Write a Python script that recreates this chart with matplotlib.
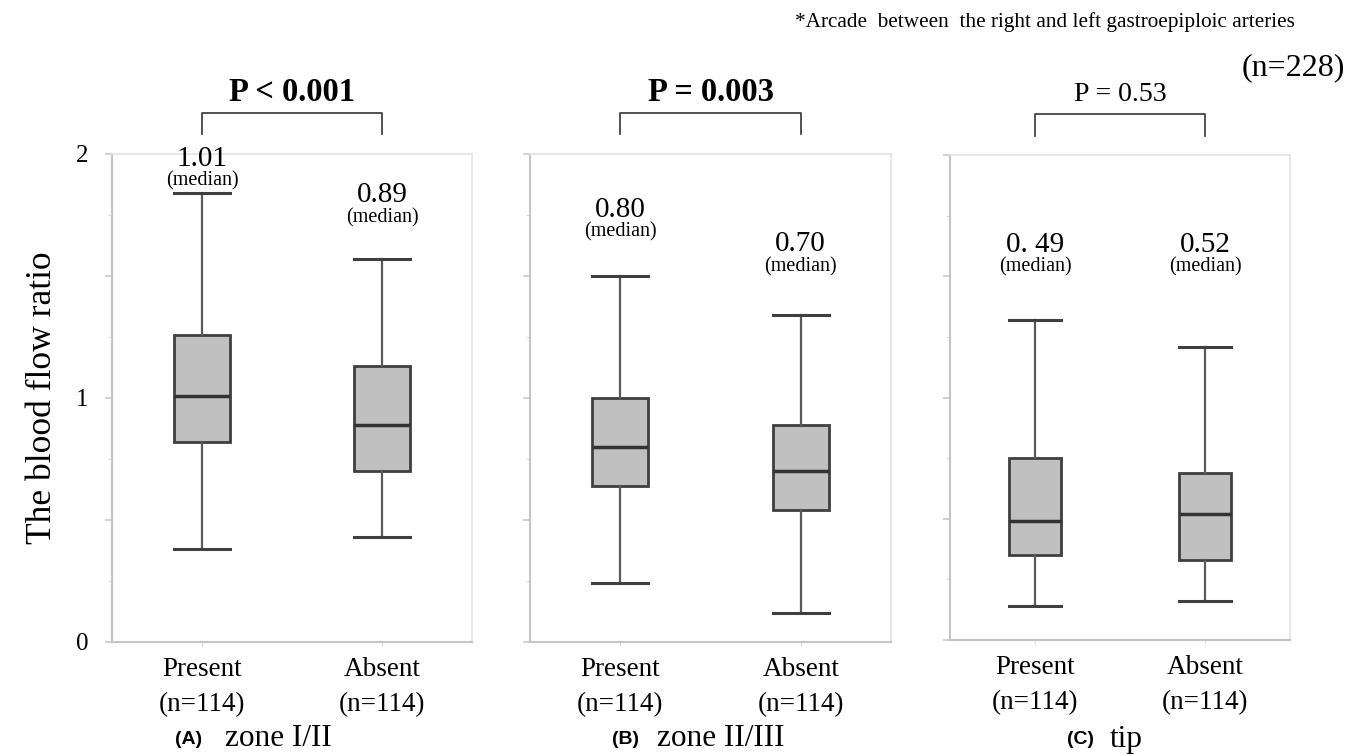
import matplotlib
matplotlib.use("Agg")
import matplotlib.pyplot as plt
from matplotlib.ticker import MultipleLocator

plt.rcParams['font.family'] = ['Liberation Serif', 'DejaVu Serif']

# Box statistics (blood flow ratio)
groups = ['Present', 'Absent']
group_n = [114, 114]
panel_letters = ['(A)', '(B)', '(C)']
panel_names = ['zone I/II', 'zone II/III', 'tip']
p_values = ['P < 0.001', 'P = 0.003', 'P = 0.53']
p_bold = [True, True, False]

whis_lo = [[0.38, 0.43], [0.24, 0.12], [0.14, 0.16]]
q1 = [[0.82, 0.70], [0.64, 0.54], [0.35, 0.33]]
medians = [[1.01, 0.89], [0.80, 0.70], [0.49, 0.52]]
q3 = [[1.26, 1.13], [1.00, 0.89], [0.75, 0.69]]
whis_hi = [[1.84, 1.57], [1.50, 1.34], [1.32, 1.21]]
median_labels = [['1.01', '0.89'], ['0.80', '0.70'], ['0. 49', '0.52']]

# layout only: where the median labels sit (data units)
label_y = [[1.98, 1.83], [1.77, 1.63], [1.63, 1.63]]


def draw_panel(ax, i, show_labels):
    stats = []
    for j, g in enumerate(groups):
        stats.append({'label': f'{g}\n(n={group_n[j]})',
                      'whislo': whis_lo[i][j], 'q1': q1[i][j], 'med': medians[i][j],
                      'q3': q3[i][j], 'whishi': whis_hi[i][j]})
    ax.bxp(stats, positions=[1, 2], widths=0.31, capwidths=0.31, showfliers=False,
           patch_artist=True,
           boxprops=dict(facecolor='#c0c0c0', edgecolor='#3f3f3f', linewidth=2),
           medianprops=dict(color='#333333', linewidth=2.5),
           whiskerprops=dict(color='#5a5a5a', linewidth=1.6),
           capprops=dict(color='#3f3f3f', linewidth=2.2))

    ax.yaxis.set_major_locator(MultipleLocator(0.5))
    ax.yaxis.set_minor_locator(MultipleLocator(0.25))
    ax.tick_params(axis='y', which='major', length=5, color='#c8c8c8', width=1.2,
                   labelsize=18, pad=12)
    ax.tick_params(axis='y', which='minor', length=3, color='#d0d0d0')
    ax.tick_params(axis='x', length=3, color='#dddddd', labelsize=19.5, pad=8)
    for lbl in ax.get_xticklabels():
        lbl.set_linespacing(1.5)

    for side in ['left', 'bottom']:
        ax.spines[side].set_color('#c4c4c4')
        ax.spines[side].set_linewidth(1.5)
    for side in ['top', 'right']:
        ax.spines[side].set_color('#e4e4e4')
        ax.spines[side].set_linewidth(1.2)

    # median annotations
    for j in range(2):
        ax.text(j + 1, label_y[i][j], median_labels[i][j], ha='center', va='center',
                fontsize=21)
        ax.annotate('(median)', xy=(j + 1, label_y[i][j]), xytext=(0, -16),
                    textcoords='offset points', ha='center', va='center', fontsize=14.5)

    # significance bracket
    ax.plot([1, 1, 2, 2], [2.08, 2.17, 2.17, 2.08], color='#444444', lw=1.3,
            clip_on=False)
    ax.text(1.5, 2.25, p_values[i], ha='center', va='center',
            fontsize=23.5 if p_bold[i] else 20,
            fontweight='bold' if p_bold[i] else 'normal')

    ax.set_xlim(0.5, 2.5)
    ax.set_ylim(0, 2)
    if show_labels:
        ax.set_yticks([0, 0.5, 1, 1.5, 2])
        ax.set_yticklabels(['0', '', '1', '', '2'])
    else:
        ax.set_yticklabels([])


def main():
    fig = plt.figure(figsize=(13.48, 7.54), dpi=100)
    W, H = 1348, 754
    rects = [(112, 642, 360, 488), (530, 642, 361, 488), (950, 640, 340, 485)]
    for i, (x0, yb, w, h) in enumerate(rects):
        ax = fig.add_axes([x0 / W, 1 - yb / H, w / W, h / H])
        draw_panel(ax, i, i == 0)
        if i == 0:
            ax.set_ylabel('The blood flow ratio', fontsize=25.5, labelpad=12)

    # panel captions
    cap_x = [(175, 225), (612, 657), (1067, 1110)]
    for i in range(3):
        fig.text(cap_x[i][0] / W, 1 - 739 / H, panel_letters[i], ha='left', va='center',
                 fontsize=14, fontweight='bold', family='Liberation Sans')
        fig.text(cap_x[i][1] / W, 1 - 739 / H, panel_names[i], ha='left', va='center',
                 fontsize=22.5)

    fig.text(1295 / W, 1 - 22 / H,
             '*Arcade  between  the right and left gastroepiploic arteries',
             ha='right', va='center', fontsize=15.3)
    fig.text(1345 / W, 1 - 68 / H, '(n=228)', ha='right', va='center', fontsize=23)

    fig.savefig('out.png', dpi=100, facecolor='white')


if __name__ == "__main__":
    main()
